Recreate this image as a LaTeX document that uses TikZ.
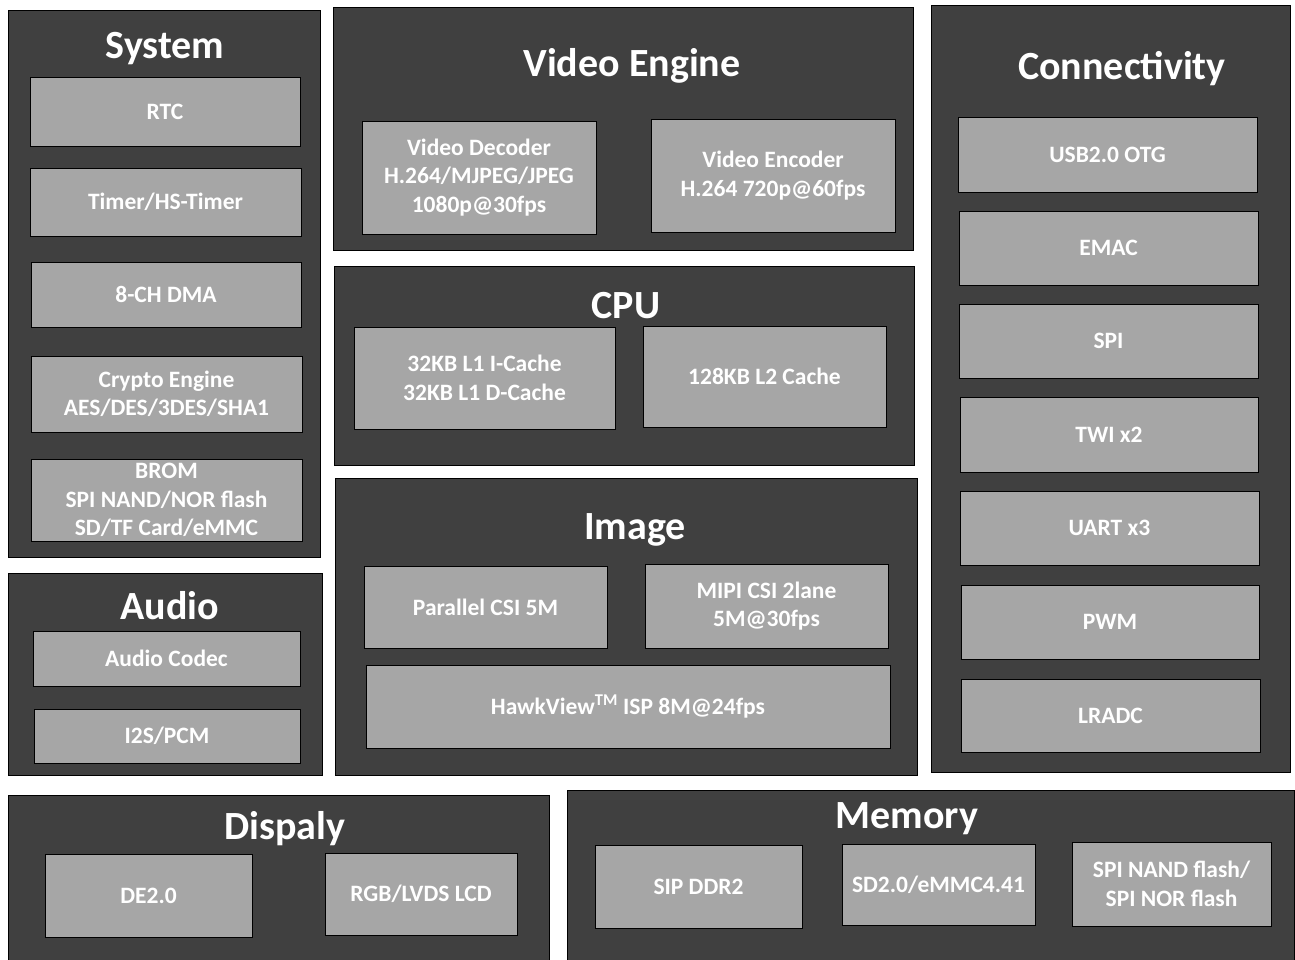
\documentclass[tikz,border=0pt]{standalone}
\usepackage{fontspec}
\setmainfont{Carlito}
\definecolor{panelc}{HTML}{404040}
\definecolor{boxc}{HTML}{A6A6A6}
\tikzset{
  panel/.style={fill=panelc,draw=black,line width=0.9pt,inner sep=0pt},
  box/.style={fill=boxc,draw=black,line width=0.9pt,inner sep=0pt,align=center,text=white,font=\bfseries\fontsize{23.5}{28.5}\selectfont},
  ttl/.style={text=white,font=\bfseries\fontsize{40}{44}\selectfont,inner sep=0pt}
}
\newcommand\blk[7]{\node[#1,minimum width={#5-#3},minimum height={#6-#4}] (#2) at ({(#3+#5)/2},{-(#4+#6)/2}) {#7};}
\begin{document}
\begin{tikzpicture}[x=1pt,y=1pt]
\useasboundingbox (0,0) rectangle (1295,-959);
% panels
\blk{panel}{psys}{8}{10}{320}{557}{}
\blk{panel}{paud}{8}{573}{322}{775}{}
\blk{panel}{pve}{333}{7}{913}{250}{}
\blk{panel}{pcpu}{334}{266}{914}{465}{}
\blk{panel}{pimg}{335}{478}{917}{775}{}
\blk{panel}{pcon}{931}{5}{1290}{772}{}
\blk{panel}{pdis}{8}{795}{549}{962}{}
\blk{panel}{pmem}{567}{790}{1294}{962}{}
% titles
\node[ttl] (tsys) at (165,-49) {System};
\node[ttl] (taud) at (170,-606) {Audio};
\node[ttl] (tve) at (632,-66) {Video Engine};
\node[ttl] (tcpu) at (626,-306) {CPU};
\node[ttl] (timg) at (635,-530) {Image};
\node[ttl] (tcon) at (1122,-69) {Connectivity};
\node[ttl] (tdis) at (285,-829) {Dispaly};
\node[ttl] (tmem) at (907,-819) {Memory};
% system
\blk{box}{rtc}{30}{77}{300}{146}{RTC}
\blk{box}{tmr}{30}{168}{301}{236}{Timer/HS-Timer}
\blk{box}{dma}{31}{262}{301}{327}{8-CH DMA}
\blk{box}{cry}{31}{356}{302}{432}{Crypto Engine\\AES/DES/3DES/SHA1}
\blk{box}{brom}{31}{459}{302}{541}{BROM\\SPI NAND/NOR flash\\SD/TF Card/eMMC}
% audio
\blk{box}{codec}{33}{631}{300}{686}{Audio Codec}
\blk{box}{i2s}{34}{709}{300}{763}{I2S/PCM}
% video engine
\blk{box}{vdec}{362}{121}{596}{234}{Video Decoder\\H.264/MJPEG/JPEG\\1080p@30fps}
\blk{box}{venc}{651}{119}{895}{232}{Video Encoder\\H.264 720p@60fps}
% cpu
\blk{box}{l1}{354}{327}{615}{429}{32KB L1 I-Cache\\32KB L1 D-Cache}
\blk{box}{l2}{643}{326}{886}{427}{128KB L2 Cache}
% image
\blk{box}{pcsi}{364}{566}{607}{648}{Parallel CSI 5M}
\blk{box}{mipi}{645}{564}{888}{648}{MIPI CSI 2lane\\5M@30fps}
\blk{box}{isp}{366}{665}{890}{748}{HawkView\textsuperscript{TM} ISP 8M@24fps}
% connectivity
\blk{box}{usb}{958}{117}{1257}{192}{USB2.0 OTG}
\blk{box}{emac}{959}{211}{1258}{285}{EMAC}
\blk{box}{spi}{959}{304}{1258}{378}{SPI}
\blk{box}{twi}{960}{397}{1258}{472}{TWI x2}
\blk{box}{uart}{960}{491}{1259}{565}{UART x3}
\blk{box}{pwm}{961}{585}{1259}{659}{PWM}
\blk{box}{lradc}{961}{679}{1260}{752}{LRADC}
% display
\blk{box}{de}{45}{854}{252}{937}{DE2.0}
\blk{box}{lcd}{325}{853}{517}{935}{RGB/LVDS LCD}
% memory
\blk{box}{ddr}{595}{845}{802}{928}{SIP DDR2}
\blk{box}{sd}{842}{844}{1035}{925}{SD2.0/eMMC4.41}
\blk{box}{nand}{1072}{842}{1271}{926}{SPI NAND flash/\\SPI NOR flash}
\end{tikzpicture}
\end{document}
